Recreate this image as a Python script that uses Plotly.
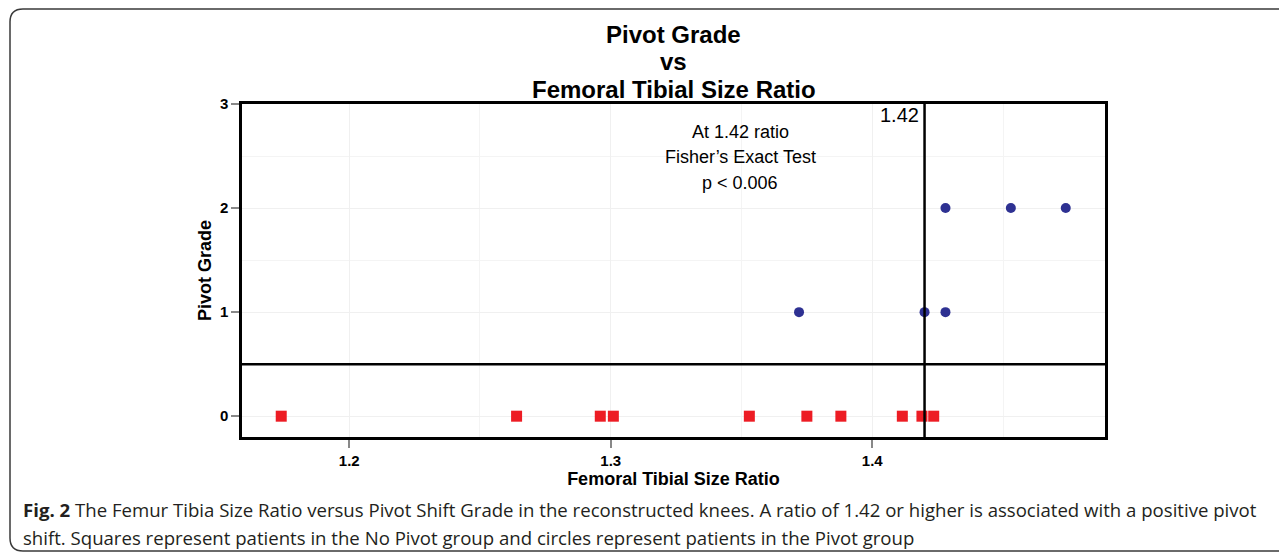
import plotly.graph_objects as go

# Data
no_pivot_ratio = [1.174, 1.264, 1.296, 1.301, 1.353, 1.375, 1.388, 1.4115, 1.419, 1.4235]
no_pivot_grade = [0, 0, 0, 0, 0, 0, 0, 0, 0, 0]
pivot_ratio = [1.372, 1.420, 1.428, 1.428, 1.453, 1.474]
pivot_grade = [1, 1, 1, 2, 2, 2]
cutoff_ratio = 1.42
cutoff_grade = 0.5
x_ticks = [1.2, 1.3, 1.4]
y_ticks = [0, 1, 2, 3]
title_lines = ["Pivot Grade", "vs", "Femoral Tibial Size Ratio"]
stat_lines = ["At 1.42 ratio", "Fisher\u2019s Exact Test", "p < 0.006"]
caption_lines = [
    "<b>Fig. 2</b> The Femur Tibia Size Ratio versus Pivot Shift Grade in the reconstructed knees. "
    "A ratio of 1.42 or higher is associated with a positive pivot",
    "shift. Squares represent patients in the No Pivot group and circles represent patients in the Pivot group",
]

OFF = 8  # browser body margin
PW, PH = 1287, 554
W, H = PW - OFF, PH - OFF
# plot area in page pixels
L, R, T, B = 242, 1105, 104, 437

def px(xp):
    return (xp - L) / (R - L)

def py(yp):
    return (B - yp) / (B - T)

font = "Liberation Sans, Arial, sans-serif"

fig = go.Figure()
fig.add_trace(go.Scatter(x=no_pivot_ratio, y=no_pivot_grade, mode="markers",
                         marker=dict(symbol="square", size=11, color="#ED1C24"),
                         name="No Pivot", cliponaxis=False))
fig.add_trace(go.Scatter(x=pivot_ratio, y=pivot_grade, mode="markers",
                         marker=dict(symbol="circle", size=10, color="#2E3192"),
                         name="Pivot", cliponaxis=False))

# rounded outer frame
x0, y0, x1, y1, r = 10, 9, 1300, 551, 13
path = (f"M {px(x0)},{py(y0 + r)} L {px(x0)},{py(y1 - r)} "
        f"Q {px(x0)},{py(y1)} {px(x0 + r)},{py(y1)} L {px(x1)},{py(y1)} "
        f"L {px(x1)},{py(y0)} L {px(x0 + r)},{py(y0)} "
        f"Q {px(x0)},{py(y0)} {px(x0)},{py(y0 + r)} Z")
fig.add_shape(type="path", path=path, xref="paper", yref="paper",
              line=dict(color="#3a3a3a", width=1.5), layer="below")

fig.add_vline(x=cutoff_ratio, line=dict(color="black", width=2.5))
fig.add_hline(y=cutoff_grade, line=dict(color="black", width=2.5))

fig.add_annotation(x=cutoff_ratio, y=3, xref="x", yref="y", text="1.42",
                   showarrow=False, xanchor="right", yanchor="top", xshift=-4, yshift=2,
                   font=dict(family=font, size=20, color="black"))

for txt, yy in zip(title_lines, [35, 62, 89]):
    fig.add_annotation(x=px(673.5), y=py(yy), xref="paper", yref="paper",
                       text=f"<b>{txt}</b>", showarrow=False, yanchor="middle",
                       font=dict(family=font, size=24, color="black"))

for txt, yy in zip(stat_lines, [120, 145, 171]):
    fig.add_annotation(x=px(740), y=py(yy), xref="paper", yref="paper",
                       text=txt, showarrow=False,
                       font=dict(family=font, size=18, color="black"))

for txt, yy in zip(caption_lines, [509, 537]):
    fig.add_annotation(x=px(21), y=py(yy), xref="paper", yref="paper",
                       xanchor="left", yanchor="middle", align="left", showarrow=False,
                       text=txt,
                       font=dict(family="Open Sans, sans-serif", size=18.6, color="#231f20"))

fig.update_layout(
    width=W, height=H,
    margin=dict(l=L - OFF, r=PW - R, t=T - OFF, b=PH - B, autoexpand=False),
    paper_bgcolor="white", plot_bgcolor="white",
    showlegend=False,
    xaxis=dict(range=[1.159, 1.489], tickvals=x_ticks, ticktext=[f"{v:.1f}" for v in x_ticks],
               ticks="outside", ticklen=8, tickcolor="#888888", tickwidth=1.5,
               tickfont=dict(family=font, size=15, color="black", weight="bold"),
               showgrid=True, gridcolor="#F0F0F0", gridwidth=1,
               minor=dict(dtick=0.05, tick0=1.15, showgrid=True, gridcolor="#F4F4F4", gridwidth=1),
               showline=True, linecolor="black", linewidth=2.5, mirror=True, zeroline=False,
               title=dict(text="<b>Femoral Tibial Size Ratio</b>", standoff=5,
                          font=dict(family=font, size=18, color="black"))),
    yaxis=dict(range=[-0.2, 3], tickvals=y_ticks, ticktext=[str(v) for v in y_ticks],
               ticks="outside", ticklen=8, tickcolor="#888888", tickwidth=1.5,
               tickfont=dict(family=font, size=15, color="black", weight="bold"),
               showgrid=True, gridcolor="#F0F0F0", gridwidth=1,
               minor=dict(dtick=0.5, tick0=0, showgrid=True, gridcolor="#F4F4F4", gridwidth=1),
               showline=True, linecolor="black", linewidth=2.5, mirror=True, zeroline=False,
               title=dict(text="<b>Pivot Grade</b>", standoff=4,
                          font=dict(family=font, size=18, color="black"))),
)

fig.write_html("out.html")
